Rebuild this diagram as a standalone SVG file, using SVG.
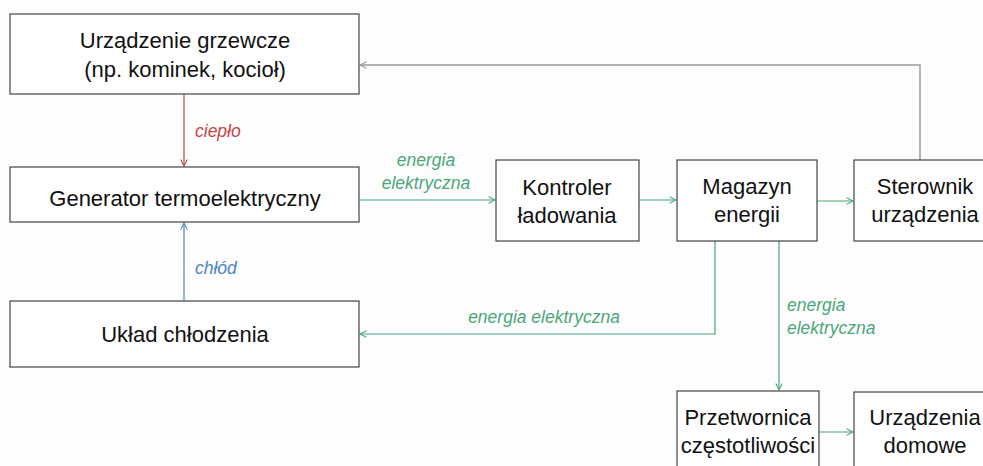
<svg xmlns="http://www.w3.org/2000/svg" width="983" height="466" viewBox="0 0 983 466">
<style>
.box{fill:#fff;stroke:#444;stroke-width:1.2}
.t{font-family:"Liberation Sans",Arial,sans-serif;font-size:22px;fill:#111;text-anchor:middle}
.l{font-family:"Liberation Sans",Arial,sans-serif;font-size:17.5px;font-style:italic}
.g{stroke:#4aa779;fill:none;stroke-width:1.2}
.r{stroke:#c0474a;fill:none;stroke-width:1.2}
.b{stroke:#4a86c0;fill:none;stroke-width:1.2}
.k{stroke:#9a9a9a;fill:none;stroke-width:1.5}
</style>
<defs>
<marker id="ag" viewBox="0 0 10 10" refX="9" refY="5" markerWidth="8" markerHeight="8" markerUnits="userSpaceOnUse" orient="auto"><path d="M1,1 L9,5 L1,9" fill="none" stroke="#4aa779" stroke-width="1.3"/></marker>
<marker id="ar" viewBox="0 0 10 10" refX="9" refY="5" markerWidth="8" markerHeight="8" markerUnits="userSpaceOnUse" orient="auto"><path d="M1,1 L9,5 L1,9" fill="none" stroke="#c0474a" stroke-width="1.3"/></marker>
<marker id="ab" viewBox="0 0 10 10" refX="9" refY="5" markerWidth="8" markerHeight="8" markerUnits="userSpaceOnUse" orient="auto"><path d="M1,1 L9,5 L1,9" fill="none" stroke="#4a86c0" stroke-width="1.3"/></marker>
<marker id="ak" viewBox="0 0 10 10" refX="9" refY="5" markerWidth="8" markerHeight="8" markerUnits="userSpaceOnUse" orient="auto"><path d="M1,1 L9,5 L1,9" fill="none" stroke="#9a9a9a" stroke-width="1.3"/></marker>
</defs>
<rect width="983" height="466" fill="#fdfdfd"/>
<g id="connectors">
<path class="r" d="M184,94 V166" marker-end="url(#ar)"/>
<text class="l" x="195" y="137" fill="#c0474a">ciepło</text>
<path class="b" d="M184,301 V223" marker-end="url(#ab)"/>
<text class="l" x="195" y="274" fill="#4a86c0">chłód</text>
<path class="g" d="M359,200 H495" marker-end="url(#ag)"/>
<text class="l" x="426" y="166" fill="#4aa779" text-anchor="middle">energia</text>
<text class="l" x="426" y="189" fill="#4aa779" text-anchor="middle">elektryczna</text>
<path class="g" d="M639,200 H676" marker-end="url(#ag)"/>
<path class="g" d="M817,201 H853" marker-end="url(#ag)"/>
<path class="k" d="M920,160 V65 H360" marker-end="url(#ak)"/>
<path class="g" d="M715,241 V334 H360" marker-end="url(#ag)"/>
<text class="l" x="544" y="323" fill="#4aa779" text-anchor="middle">energia elektryczna</text>
<path class="g" d="M779,241 V390" marker-end="url(#ag)"/>
<text class="l" x="787" y="311" fill="#4aa779">energia</text>
<text class="l" x="787" y="334" fill="#4aa779">elektryczna</text>
<path class="g" d="M819,432 H853" marker-end="url(#ag)"/>
</g>
<g id="urzadzenie-grzewcze">
<rect class="box" x="10" y="14" width="349" height="80"/>
<text class="t" x="185" y="48">Urządzenie grzewcze</text>
<text class="t" x="185" y="77">(np. kominek, kocioł)</text>
</g>
<g id="generator">
<rect class="box" x="10" y="167" width="349" height="55"/>
<text class="t" x="185" y="206">Generator termoelektryczny</text>
</g>
<g id="uklad-chlodzenia">
<rect class="box" x="10" y="301" width="349" height="66"/>
<text class="t" x="185" y="342">Układ chłodzenia</text>
</g>
<g id="kontroler">
<rect class="box" x="496" y="160" width="143" height="81"/>
<text class="t" x="567" y="195">Kontroler</text>
<text class="t" x="567" y="223">ładowania</text>
</g>
<g id="magazyn">
<rect class="box" x="677" y="160" width="140" height="81"/>
<text class="t" x="747" y="194">Magazyn</text>
<text class="t" x="747" y="222">energii</text>
</g>
<g id="sterownik">
<rect class="box" x="854" y="160" width="142" height="81"/>
<text class="t" x="925" y="194">Sterownik</text>
<text class="t" x="925" y="222">urządzenia</text>
</g>
<g id="przetwornica">
<rect class="box" x="677" y="391" width="142" height="90"/>
<text class="t" x="748" y="425">Przetwornica</text>
<text class="t" x="748" y="453">częstotliwości</text>
</g>
<g id="urzadzenia-domowe">
<rect class="box" x="854" y="392" width="142" height="90"/>
<text class="t" x="925" y="425">Urządzenia</text>
<text class="t" x="925" y="453">domowe</text>
</g>
</svg>
